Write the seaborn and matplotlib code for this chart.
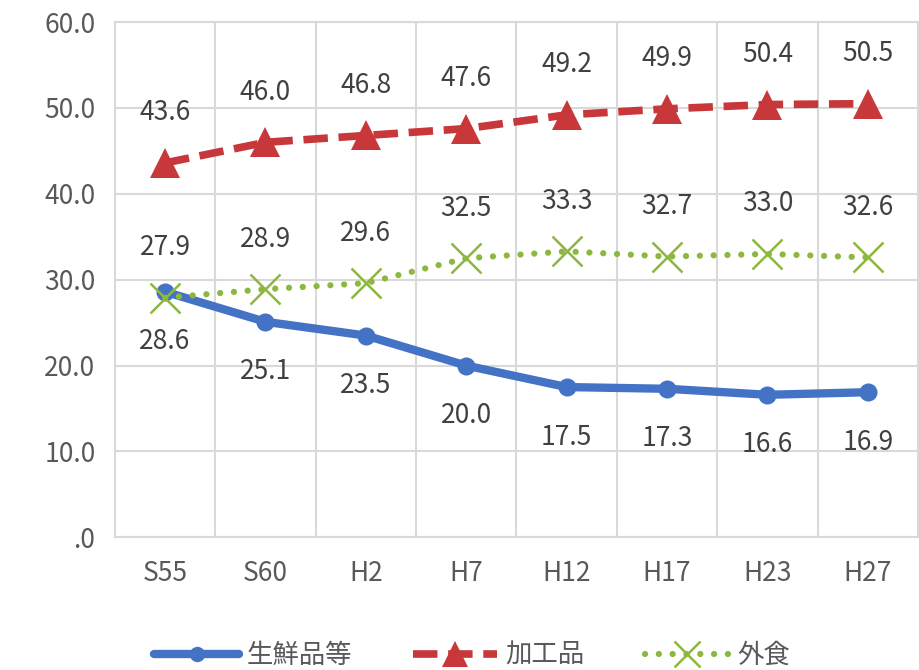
import pandas as pd
import matplotlib
matplotlib.use('Agg')
import matplotlib.pyplot as plt
import seaborn as sns

# Data
categories = ['S55', 'S60', 'H2', 'H7', 'H12', 'H17', 'H23', 'H27']
fresh = [28.6, 25.1, 23.5, 20.0, 17.5, 17.3, 16.6, 16.9]
processed = [43.6, 46.0, 46.8, 47.6, 49.2, 49.9, 50.4, 50.5]
eating_out = [27.9, 28.9, 29.6, 32.5, 33.3, 32.7, 33.0, 32.6]
series_names = ['生鮮品等', '加工品', '外食']
y_ticks = [0, 10, 20, 30, 40, 50, 60]

sns.set_style('white')
plt.rcParams['font.family'] = ['Noto Sans CJK JP', 'DejaVu Sans']

df = pd.DataFrame({
    'pos': list(range(len(categories))) * 3,
    'value': fresh + processed + eating_out,
    'series': [series_names[0]] * 8 + [series_names[1]] * 8 + [series_names[2]] * 8,
})

fig = plt.figure(figsize=(9.19, 6.70), dpi=100)
ax = fig.add_axes([0.125, 0.198, 0.874, 0.769])

text_color = '#595959'
grid_color = '#D9D9D9'

styles = {
    '生鮮品等': dict(color='#4472C4', ls='-', marker='o', ms=13, lw=6, mew=0, cap='round'),
    '加工品': dict(color='#C8373A', ls=(0, (3.2, 1.4)), marker='^', ms=22, lw=5.5, mew=0, cap='butt'),
    '外食': dict(color='#8DB83F', ls=(0, (0.01, 2.2)), marker='x', ms=22, lw=4.5, mew=1.8, cap='round'),
}

for name in series_names:
    st = styles[name]
    sub = df[df['series'] == name]
    sns.lineplot(data=sub, x='pos', y='value', ax=ax, color=st['color'],
                 linestyle=st['ls'], linewidth=st['lw'], marker=st['marker'],
                 markersize=st['ms'], markeredgewidth=st['mew'],
                 markeredgecolor=st['color'], label=name, zorder=3,
                 dash_capstyle=st['cap'])

# data labels
for vals, dy in [(processed, 36), (eating_out, 36), (fresh, -36)]:
    for i, v in enumerate(vals):
        ax.annotate(f'{v:.1f}', (i, v), xytext=(0, dy), textcoords='offset points',
                    ha='center', va='center', fontsize=19, color='#404040', zorder=4)

ax.set_xlim(-0.5, len(categories) - 0.5)
ax.set_ylim(0, 60)
ax.set_yticks(y_ticks)
ax.set_yticklabels(['.0'] + [f'{t:.1f}' for t in y_ticks[1:]])
ax.set_xticks(range(len(categories)))
ax.set_xticklabels(categories)
ax.set_xticks([i + 0.5 for i in range(len(categories) - 1)], minor=True)
ax.tick_params(axis='both', which='both', length=0, labelsize=19, colors=text_color)
ax.tick_params(axis='x', pad=16)
ax.tick_params(axis='y', pad=14)

ax.grid(True, axis='y', which='major', color=grid_color, lw=1.5)
ax.grid(True, axis='x', which='minor', color=grid_color, lw=1.5)
ax.grid(False, axis='x', which='major')
for s in ax.spines.values():
    s.set_color(grid_color)
    s.set_linewidth(1.5)
ax.set_xlabel('')
ax.set_ylabel('')

ax.legend(loc='center', bbox_to_anchor=(0.445, -0.229), ncol=3, frameon=False,
          fontsize=19, handlelength=3.2, columnspacing=2.3, handletextpad=0.3,
          labelcolor=text_color, markerscale=0.85)

fig.savefig('out.png', dpi=100)
